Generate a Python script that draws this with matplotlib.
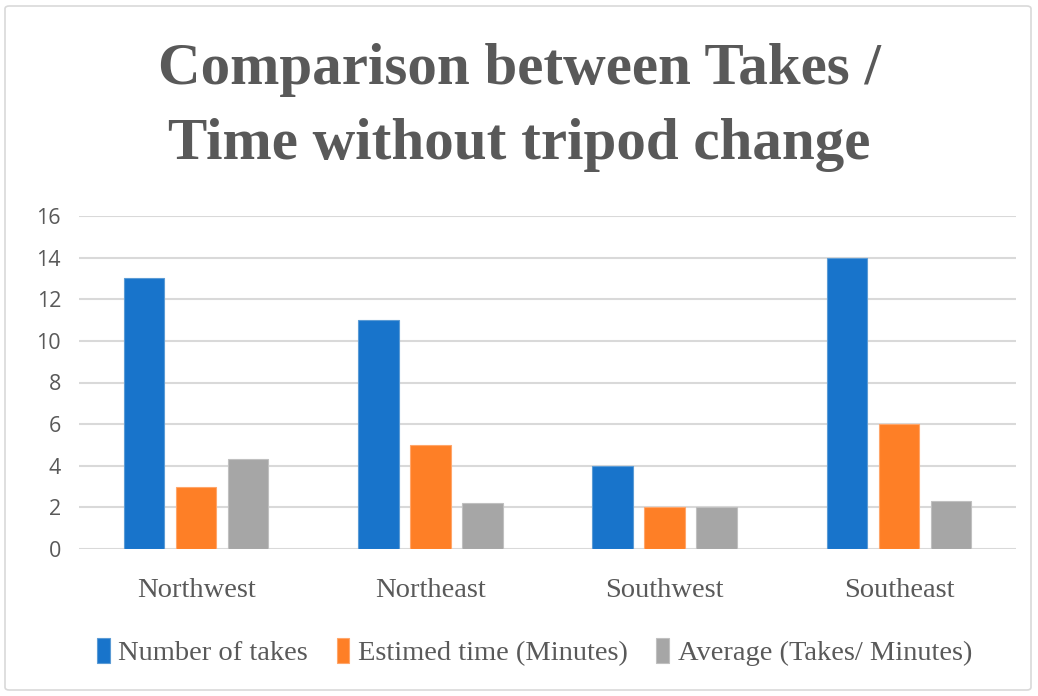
import numpy as np
import matplotlib
matplotlib.use("Agg")
import matplotlib.pyplot as plt
from matplotlib.patches import FancyBboxPatch

# data
categories = ["Northwest", "Northeast", "Southwest", "Southeast"]
series_names = ["Number of takes", "Estimed time (Minutes)", "Average (Takes/ Minutes)"]
takes = [13, 11, 4, 14]
est_time = [3, 5, 2, 6]
average = [4.33, 2.2, 2.0, 2.33]
yticks = [0, 2, 4, 6, 8, 10, 12, 14, 16]

colors = ["#1874CB", "#FE7F26", "#A6A6A6"]
edges = ["#5B9BD5", "#FFA66B", "#C0C0C0"]
text_gray = "#595959"
serif = ["Liberation Serif", "DejaVu Serif"]
sans = ["Open Sans", "DejaVu Sans"]

W, H = 1038, 696
fig = plt.figure(figsize=(W / 100, H / 100), dpi=100)
fig.patch.set_facecolor("white")

# light border around the chart
fig.patches.append(FancyBboxPatch((5 / W, 6 / H), 1 - 12 / W, 1 - 12 / H,
                                  boxstyle="round,pad=0,rounding_size=0.004",
                                  transform=fig.transFigure, facecolor="none",
                                  edgecolor="#D9D9D9", linewidth=1.2))

ax = fig.add_axes([79 / W, 1 - 549 / H, (1016 - 79) / W, (549 - 216) / H])

x = np.arange(len(categories))
width = 0.172
step = 0.222
for i, (vals, c, ec) in enumerate(zip([takes, est_time, average], colors, edges)):
    ax.bar(x + (i - 1) * step, vals, width=width, color=c, edgecolor=ec,
           linewidth=0.8, label=series_names[i], zorder=3)

ax.set_xlim(-0.5, len(categories) - 0.5)
ax.set_ylim(0, 16)
ax.set_yticks(yticks)
ax.set_yticklabels([str(t) for t in yticks], fontsize=15.5, color=text_gray, family=sans)
ax.set_xticks(x)
ax.set_xticklabels(categories, fontsize=20.5, color=text_gray, family=serif)
ax.tick_params(axis="both", length=0)
ax.tick_params(axis="y", pad=13)
ax.tick_params(axis="x", pad=21)
ax.grid(axis="y", color="#D9D9D9", linewidth=1.5, zorder=0)
ax.set_axisbelow(True)
for s in ax.spines.values():
    s.set_visible(False)

fig.text(0.5, 1 - 70 / H, "Comparison between Takes /", ha="center", va="center",
         fontsize=42.5, fontweight="bold", color=text_gray, family=serif)
fig.text(0.5, 1 - 145 / H, "Time without tripod change", ha="center", va="center",
         fontsize=42.5, fontweight="bold", color=text_gray, family=serif)

leg = fig.legend(loc="center", bbox_to_anchor=(0.515, 1 - 652 / H), ncol=3,
                 frameon=False, prop={"family": serif, "size": 20.5},
                 handlelength=0.45, handleheight=1.0, handletextpad=0.3,
                 columnspacing=1.0)
for t in leg.get_texts():
    t.set_color(text_gray)

fig.savefig("out.png", dpi=100, facecolor="white")
